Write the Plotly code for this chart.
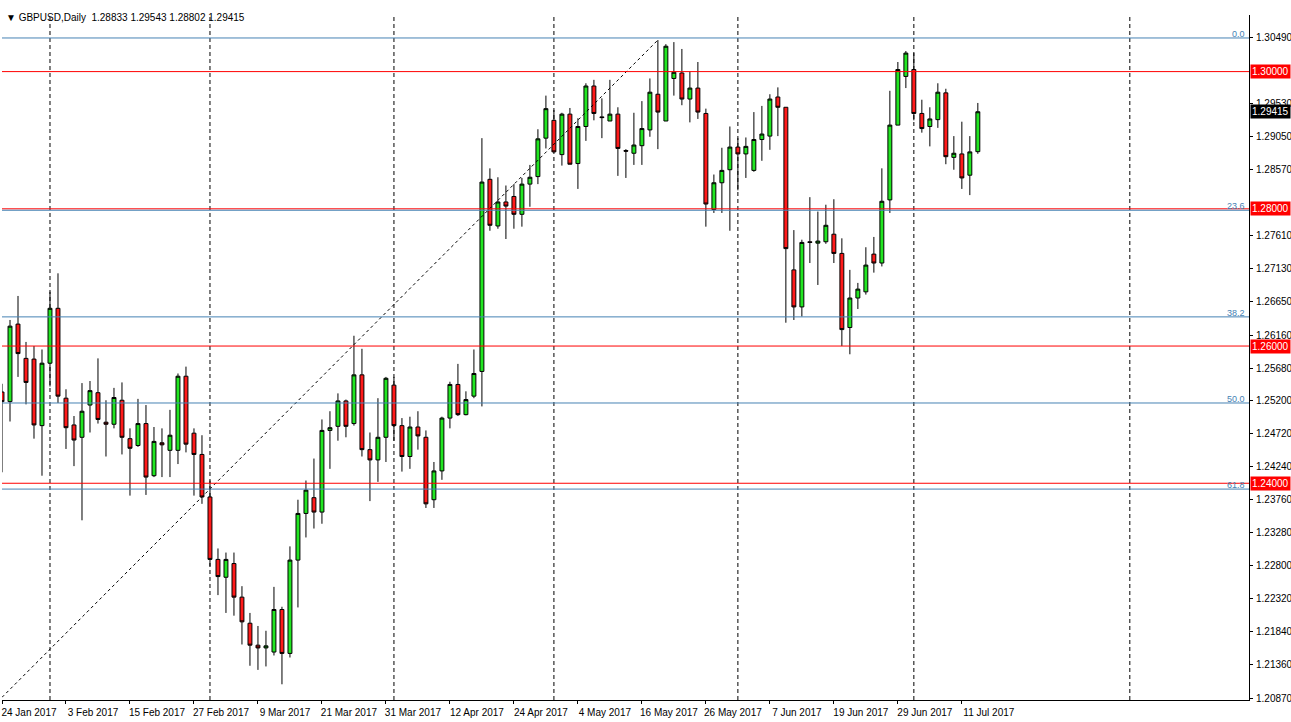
import plotly.graph_objects as go

# daily GBPUSD candles, 24 Jan 2017 .. 13 Jul 2017 (bar index = position)
opens = [1.2533, 1.2519, 1.2632, 1.2582, 1.2581, 1.2484, 1.2575, 1.2655, 1.2524, 1.2485,
         1.2467, 1.2514, 1.2532, 1.2489, 1.2486, 1.2521, 1.2465, 1.2455, 1.2487, 1.2411,
         1.2459, 1.2448, 1.2448, 1.2556, 1.2473, 1.2442, 1.2380, 1.2289, 1.2263, 1.2283,
         1.2234, 1.2196, 1.2164, 1.2160, 1.2154, 1.2216, 1.2152, 1.2288, 1.2356, 1.2379,
         1.2358, 1.2477, 1.2483, 1.2520, 1.2487, 1.2558, 1.2449, 1.2434, 1.2467, 1.2543,
         1.2484, 1.2439, 1.2482, 1.2467, 1.2376, 1.2418, 1.2495, 1.2544, 1.2500, 1.2527,
         1.2563, 1.2843, 1.2775, 1.2810, 1.2818, 1.2792, 1.2836, 1.2847, 1.2903, 1.2929,
         1.2879, 1.2938, 1.2866, 1.2920, 1.2979, 1.2934, 1.2928, 1.2938, 1.2885, 1.2881,
         1.2892, 1.2915, 1.2967, 1.2928, 1.2990, 1.2998, 1.2960, 1.2976, 1.2939, 1.2799,
         1.2838, 1.2857, 1.2890, 1.2880, 1.2856, 1.2901, 1.2906, 1.2963, 1.2948, 1.2711,
         1.2657, 1.2752, 1.2750, 1.2752, 1.2763, 1.2735, 1.2627, 1.2670, 1.2679, 1.2734,
         1.2721, 1.2813, 1.2922, 1.2993, 1.3003, 1.2939, 1.2920, 1.2930, 1.2969, 1.2875,
         1.2880, 1.2849, 1.28833]
highs = [1.2545, 1.2638, 1.2673, 1.2606, 1.2600, 1.2595, 1.2679, 1.2706, 1.2537, 1.2498,
         1.2546, 1.2549, 1.2582, 1.2521, 1.2539, 1.2547, 1.2480, 1.2523, 1.2514, 1.2482,
         1.2480, 1.2507, 1.2560, 1.2570, 1.2480, 1.2470, 1.2404, 1.2305, 1.2299, 1.2299,
         1.2250, 1.2211, 1.2192, 1.2185, 1.2249, 1.2220, 1.2308, 1.2376, 1.2404, 1.2436,
         1.2493, 1.2505, 1.2531, 1.2522, 1.2615, 1.2596, 1.2474, 1.2524, 1.2555, 1.2555,
         1.2495, 1.2497, 1.2505, 1.2477, 1.2431, 1.2497, 1.2548, 1.2574, 1.2534, 1.2595,
         1.2903, 1.2859, 1.2846, 1.2834, 1.2836, 1.2845, 1.2864, 1.2916, 1.2965, 1.2944,
         1.2940, 1.2947, 1.2932, 1.2983, 1.2988, 1.2961, 1.2988, 1.2948, 1.2887, 1.2940,
         1.2957, 1.2990, 1.3046, 1.3040, 1.3043, 1.3033, 1.3000, 1.3014, 1.2946, 1.2850,
         1.2889, 1.2920, 1.2903, 1.2904, 1.2941, 1.2950, 1.2967, 1.2977, 1.2948, 1.2769,
         1.2755, 1.2817, 1.2796, 1.2806, 1.2814, 1.2757, 1.2711, 1.2692, 1.2744, 1.2759,
         1.2859, 1.2972, 1.3014, 1.3030, 1.3027, 1.2959, 1.2948, 1.2983, 1.2975, 1.2906,
         1.2927, 1.2906, 1.29543]
lows = [1.2416, 1.2490, 1.2555, 1.2515, 1.2465, 1.2411, 1.2541, 1.2517, 1.2450, 1.2425,
        1.2346, 1.2474, 1.2487, 1.2439, 1.2480, 1.2442, 1.2382, 1.2453, 1.2383, 1.2409,
        1.2409, 1.2409, 1.2428, 1.2445, 1.2382, 1.2370, 1.2279, 1.2237, 1.2211, 1.2207,
        1.2165, 1.2134, 1.2128, 1.2133, 1.2149, 1.2107, 1.2146, 1.2219, 1.2321, 1.2334,
        1.2341, 1.2421, 1.2462, 1.2467, 1.2484, 1.2439, 1.2374, 1.2402, 1.2431, 1.2462,
        1.2417, 1.2421, 1.2449, 1.2364, 1.2364, 1.2405, 1.2480, 1.2498, 1.2499, 1.2524,
        1.2512, 1.2768, 1.2771, 1.2756, 1.2771, 1.2774, 1.2803, 1.2836, 1.2888, 1.2882,
        1.2863, 1.2865, 1.2829, 1.2899, 1.2929, 1.2903, 1.2928, 1.2848, 1.2845, 1.2864,
        1.2864, 1.2905, 1.2887, 1.2928, 1.2965, 1.2951, 1.2926, 1.2931, 1.2774, 1.2794,
        1.2794, 1.2768, 1.2827, 1.2845, 1.2854, 1.2870, 1.2886, 1.2906, 1.2634, 1.2638,
        1.2643, 1.2721, 1.2689, 1.2749, 1.2721, 1.2600, 1.2588, 1.2654, 1.2675, 1.2707,
        1.2716, 1.2794, 1.2922, 1.2976, 1.2929, 1.2911, 1.2891, 1.2918, 1.2865, 1.2857,
        1.2829, 1.2820, 1.28802]
closes = [1.2519, 1.2629, 1.2589, 1.2547, 1.2485, 1.2575, 1.2655, 1.2527, 1.2481, 1.2463,
          1.2505, 1.2535, 1.2493, 1.2486, 1.2525, 1.2467, 1.2451, 1.2487, 1.2409, 1.2461,
          1.2456, 1.2470, 1.2556, 1.2457, 1.2442, 1.2380, 1.2289, 1.2264, 1.2289, 1.2234,
          1.2198, 1.2164, 1.2160, 1.2163, 1.2216, 1.2152, 1.2288, 1.2356, 1.2390, 1.2358,
          1.2477, 1.2481, 1.2520, 1.2483, 1.2558, 1.2449, 1.2434, 1.2467, 1.2553, 1.2484,
          1.2439, 1.2482, 1.2469, 1.2370, 1.2418, 1.2495, 1.2544, 1.2500, 1.2522, 1.2560,
          1.2839, 1.2776, 1.2810, 1.2804, 1.2792, 1.2836, 1.2846, 1.2902, 1.2946, 1.2883,
          1.2938, 1.2865, 1.2920, 1.2979, 1.2939, 1.2933, 1.2938, 1.2888, 1.2884, 1.2893,
          1.2917, 1.2970, 1.2941, 1.3037, 1.2999, 1.2960, 1.2976, 1.2941, 1.2807, 1.2838,
          1.2856, 1.2890, 1.2880, 1.2891, 1.2901, 1.2909, 1.2960, 1.2948, 1.2742, 1.2657,
          1.2751, 1.2751, 1.2753, 1.2776, 1.2735, 1.2624, 1.2670, 1.2683, 1.2718, 1.2721,
          1.2811, 1.2922, 1.3003, 1.3027, 1.2939, 1.2917, 1.2931, 1.2970, 1.2876, 1.2881,
          1.2845, 1.2883, 1.29415]

date_labels = ["24 Jan 2017", "3 Feb 2017", "15 Feb 2017", "27 Feb 2017", "9 Mar 2017",
               "21 Mar 2017", "31 Mar 2017", "12 Apr 2017", "24 Apr 2017", "4 May 2017",
               "16 May 2017", "26 May 2017", "7 Jun 2017", "19 Jun 2017", "29 Jun 2017",
               "11 Jul 2017"]
date_pos = [i * 8 for i in range(len(date_labels))]
month_starts = [6, 26, 49, 69, 92, 114, 141]

price_ticks = [1.20870, 1.21360, 1.21840, 1.22320, 1.22800, 1.23280, 1.23760, 1.24240,
               1.24720, 1.25200, 1.25680, 1.26160, 1.26650, 1.27130, 1.27610, 1.28570,
               1.29050, 1.29530, 1.30490]
round_levels = [1.30000, 1.28000, 1.26000, 1.24000]
fib_levels = [1.30490, 1.27979, 1.26425, 1.25170, 1.23915]
fib_names = ["0.0", "23.6", "38.2", "50.0", "61.8"]
trend_x = [0, 82]
trend_y = [1.2088, 1.3046]

x = list(range(len(opens)))
fig = go.Figure()

fig.add_trace(go.Scatter(x=trend_x, y=trend_y, mode="lines",
                         line=dict(color="black", width=1, dash="3px,3px"), hoverinfo="skip"))
fig.add_trace(go.Candlestick(
    x=x, open=opens, high=highs, low=lows, close=closes,
    increasing=dict(fillcolor="#22e622", line=dict(color="black", width=1)),
    decreasing=dict(fillcolor="#ff1a1a", line=dict(color="black", width=1)),
    whiskerwidth=0,
))

for m in month_starts:
    fig.add_shape(type="line", x0=m, x1=m, y0=0, y1=1, yref="paper",
                  line=dict(color="black", width=1, dash="4px,3px"), layer="below")
for lv in round_levels:
    fig.add_shape(type="line", x0=0, x1=1, xref="paper", y0=lv, y1=lv,
                  line=dict(color="#ff0000", width=1))
    fig.add_annotation(x=1, xref="paper", xanchor="left", y=lv, text=f"{lv:.5f}",
                       showarrow=False, bgcolor="#ff0000", font=dict(color="white", size=10),
                       borderpad=1, xshift=1)
for lv, nm in zip(fib_levels, fib_names):
    fig.add_shape(type="line", x0=0, x1=1, xref="paper", y0=lv, y1=lv,
                  line=dict(color="#4682b4", width=1))
    fig.add_annotation(x=1, xref="paper", xanchor="right", yanchor="bottom", y=lv, text=nm,
                       showarrow=False, font=dict(color="#4682b4", size=9), xshift=-2, yshift=-3)

fig.add_annotation(x=1, xref="paper", xanchor="left", y=closes[-1], text=f"{closes[-1]:.5f}",
                   showarrow=False, bgcolor="black", font=dict(color="white", size=10),
                   borderpad=1, xshift=1)
fig.add_annotation(x=0, xref="paper", y=1, yref="paper", xanchor="left", yanchor="middle",
                   text=f"▼ GBPUSD,Daily  {opens[-1]:.5f} {highs[-1]:.5f} {lows[-1]:.5f} {closes[-1]:.5f}",
                   showarrow=False, font=dict(size=10, color="black"), xshift=2, yshift=-2)

fig.update_layout(
    width=1291, height=722,
    margin=dict(l=2, r=42, t=15, b=22, autoexpand=False),
    paper_bgcolor="white", plot_bgcolor="white",
    showlegend=False,
    font=dict(family="Liberation Sans", size=10, color="black"),
    xaxis=dict(range=[0, 155.9], rangeslider=dict(visible=False), showgrid=False,
               zeroline=False, tickvals=date_pos, ticktext=date_labels, ticks="outside",
               ticklen=3, tickcolor="black", showline=True, linecolor="black",
               ticklabelshift=27, ticklabelstandoff=0, automargin=False),
    yaxis=dict(range=[1.20841, 1.30825], side="right", showgrid=False, zeroline=False,
               tickvals=price_ticks, ticktext=[f"{v:.5f}" for v in price_ticks],
               ticks="outside", ticklen=3, tickcolor="black", showline=True,
               linecolor="black", automargin=False, ticklabelstandoff=1),
)

fig.write_html("out.html", config={"displayModeBar": False},
               post_script="document.body.style.margin='0';")
